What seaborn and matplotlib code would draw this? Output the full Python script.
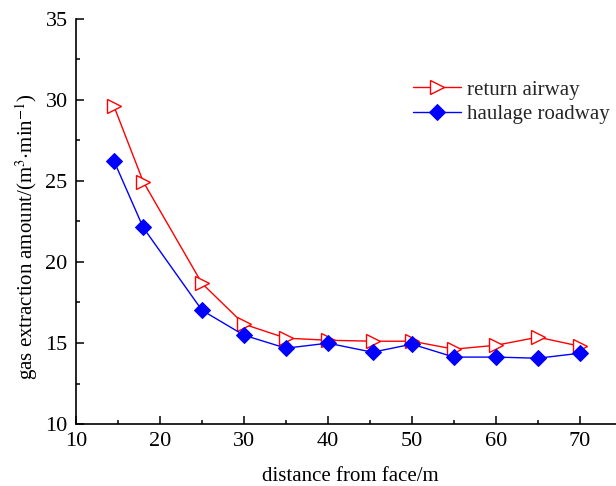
import matplotlib
matplotlib.use("Agg")
import matplotlib.pyplot as plt
from matplotlib.ticker import MultipleLocator
import seaborn as sns

# distance from the working face (m)
distance = [14.5, 18, 25, 30, 35, 40, 45.3, 50, 55, 60, 65, 70]
# gas extraction amount (m^3/min)
return_airway = [29.64, 24.96, 18.68, 16.16, 15.30, 15.17, 15.11, 15.11, 14.62, 14.86, 15.36, 14.80]
haulage_roadway = [26.26, 22.13, 17.02, 15.48, 14.68, 14.99, 14.43, 14.93, 14.13, 14.13, 14.06, 14.37]

sns.set_theme(style="ticks")
plt.rcParams["font.family"] = ["Liberation Serif", "DejaVu Serif"]
plt.rcParams["mathtext.fontset"] = "stix"
plt.rcParams["font.size"] = 15

fig = plt.figure(figsize=(6.16, 4.86), dpi=100)
W, H = 616, 486
left, right, top, bottom = 76, 622, 19, 424
ax = fig.add_axes([left / W, 1 - bottom / H, (right - left) / W, (bottom - top) / H])

sns.lineplot(x=distance, y=return_airway, ax=ax, color="#ff0000", lw=1.0,
             marker=">", markersize=10, markerfacecolor="white",
             markeredgecolor="#ff0000", markeredgewidth=1.0, label="return airway")
sns.lineplot(x=distance, y=haulage_roadway, ax=ax, color="#0000ff", lw=1.0,
             marker="D", markersize=8, markerfacecolor="#0000ff",
             markeredgecolor="#0000ff", label="haulage roadway")

ax.set_xlim(10, 75)
ax.set_ylim(10, 35)
ax.xaxis.set_major_locator(MultipleLocator(10))
ax.xaxis.set_minor_locator(MultipleLocator(5))
ax.yaxis.set_major_locator(MultipleLocator(5))
ax.yaxis.set_minor_locator(MultipleLocator(2.5))
ax.set_xticks([10, 20, 30, 40, 50, 60, 70])

for s in ("top", "right"):
    ax.spines[s].set_visible(False)
for s in ("left", "bottom"):
    ax.spines[s].set_color("black")
    ax.spines[s].set_linewidth(1.2)

ax.tick_params(which="major", direction="in", length=6, width=1.1,
               labelsize=16, colors="black", pad=6)
ax.tick_params(which="minor", direction="in", length=3, width=1.1, colors="black")

ax.set_xlabel("distance from face/m", fontsize=15, color="black")
ax.set_ylabel(r"gas extraction amount/(m$^{3}$$\cdot$min$^{-1}$)", fontsize=15, color="black")
ax.xaxis.set_label_coords(274 / (right - left), -(476 - bottom) / (bottom - top))
ax.yaxis.set_label_coords(-(76 - 27) / (right - left), (bottom - 237) / (bottom - top))
ax.xaxis.label.set_va("center")
ax.yaxis.label.set_va("center")

ax.legend(loc="upper left", bbox_to_anchor=(413 / W, 1 - 80 / H),
          bbox_transform=fig.transFigure, frameon=False, fontsize=15,
          borderpad=0, borderaxespad=0, handlelength=2.3, handletextpad=0.3,
          labelspacing=0.25)

fig.savefig("out.png", dpi=100)
